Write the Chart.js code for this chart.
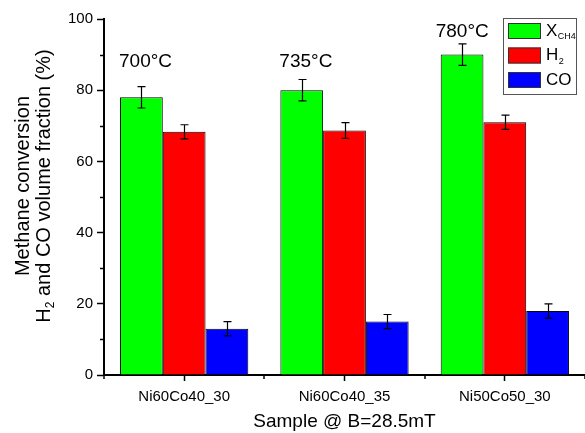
<!DOCTYPE html>
<html>
<head>
<meta charset="utf-8">
<script src="https://cdn.jsdelivr.net/npm/chart.js@4"></script>
<style>
  html, body { margin: 0; padding: 0; background: #fff; }
  #wrap { width: 585px; height: 433px; }
</style>
</head>
<body>
<div id="wrap"><canvas id="chart" width="585" height="433"></canvas></div>
<script>
// Data
const samples = ['Ni60Co40_30', 'Ni60Co40_35', 'Ni50Co50_30'];
const temps = ['700°C', '735°C', '780°C'];
const tempLevel = [88, 88, 96.5];   // height of each temperature label, in % units
const xch4 = [78, 80, 90];
const xch4Err = [3, 3, 3];
const h2 = [68.3, 68.7, 71];
const h2Err = [2, 2.2, 2];
const co = [13, 15, 18];
const coErr = [2, 2, 2];

const FONT = '"Liberation Sans", Arial, sans-serif';

// error bars drawn on top of each bar
const errorBars = {
    id: 'errorBars',
    afterDatasetsDraw(chart) {
        const c = chart.ctx;
        const y = chart.scales.y;
        c.save();
        c.strokeStyle = '#000';
        c.lineWidth = 1.2;
        chart.data.datasets.forEach((ds, i) => {
            chart.getDatasetMeta(i).data.forEach((bar, j) => {
                const v = ds.data[j], e = ds.err[j];
                const top = y.getPixelForValue(v + e), bot = y.getPixelForValue(v - e);
                const x = Math.round(bar.x) + 0.5;
                c.beginPath();
                c.moveTo(x, top); c.lineTo(x, bot);
                c.moveTo(x - 4, top); c.lineTo(x + 4, top);
                c.moveTo(x - 4, bot); c.lineTo(x + 4, bot);
                c.stroke();
            });
        });
        c.restore();
    }
};

// minor ticks, axis title with subscript, temperature labels, legend
const decor = {
    id: 'decor',
    afterDraw(chart) {
        const c = chart.ctx;
        const xs = chart.scales.x, ys = chart.scales.y;
        const area = chart.chartArea;
        c.save();
        c.strokeStyle = '#000';
        c.lineWidth = 1.5;
        // y minor ticks
        for (let v = 10; v < 100; v += 20) {
            const py = Math.round(ys.getPixelForValue(v)) + 0.5;
            c.beginPath(); c.moveTo(area.left - 4, py); c.lineTo(area.left, py); c.stroke();
        }
        // x minor ticks at category boundaries
        for (let i = 0; i <= samples.length; i++) {
            const px = Math.round(xs.getPixelForValue(i - 0.5));
            c.beginPath(); c.moveTo(px, area.bottom); c.lineTo(px, area.bottom + 4); c.stroke();
        }

        // y axis title
        c.fillStyle = '#000';
        c.save();
        c.translate(23, 186);
        c.rotate(-Math.PI / 2);
        c.textAlign = 'center';
        c.textBaseline = 'middle';
        c.font = '20px ' + FONT;
        c.fillText('Methane conversion', 0, 0);
        c.restore();
        c.save();
        c.translate(44, 186);
        c.rotate(-Math.PI / 2);
        c.textBaseline = 'middle';
        const partA = 'H', partB = ' and CO volume fraction (%)';
        c.font = '12px ' + FONT;
        const wSub = c.measureText('2').width;
        c.font = '20px ' + FONT;
        const total = c.measureText(partA).width + wSub + c.measureText(partB).width;
        let x0 = -total / 2;
        c.textAlign = 'left';
        c.fillText(partA, x0, 0);
        x0 += c.measureText(partA).width;
        c.font = '12px ' + FONT;
        c.fillText('2', x0, 7);
        x0 += wSub;
        c.font = '20px ' + FONT;
        c.fillText(partB, x0, 0);
        c.restore();

        // temperature labels above each group
        c.font = '19px ' + FONT;
        c.textAlign = 'left';
        c.textBaseline = 'middle';
        const greenMeta = chart.getDatasetMeta(0).data;
        temps.forEach((t, i) => {
            const bar = greenMeta[i];
            const tx = bar.x - bar.width / 2 - 1 - (i === 2 ? 4 : 0);
            const ty = ys.getPixelForValue(tempLevel[i]);
            c.fillText(t, tx, ty);
        });

        // legend
        const lx = 503, ly = 18, lw = 73, lh = 76;
        c.lineWidth = 1;
        c.strokeStyle = '#555';
        c.fillStyle = '#fff';
        c.fillRect(lx, ly, lw, lh);
        c.strokeRect(lx + 0.5, ly + 0.5, lw, lh);
        const items = chart.data.datasets;
        items.forEach((ds, i) => {
            const sy = ly + 5 + i * 24.5;
            c.fillStyle = ds.backgroundColor;
            c.fillRect(lx + 5, sy, 33, 16);
            c.strokeStyle = '#333';
            c.strokeRect(lx + 5.5, sy + 0.5, 32, 15);
            c.fillStyle = '#000';
            c.textBaseline = 'middle';
            c.font = '17px ' + FONT;
            const tx = lx + 43, ty = sy + 8;
            c.fillText(ds.label, tx, ty);
            if (ds.sub) {
                const w = c.measureText(ds.label).width;
                c.font = '9px ' + FONT;
                c.fillText(ds.sub, tx + w + 0.5, ty + 6);
            }
        });
        c.restore();
    }
};

const ctx = document.getElementById('chart').getContext('2d');
new Chart(ctx, {
    type: 'bar',
    data: {
        labels: samples,
        datasets: [
            { label: 'X', sub: 'CH4', data: xch4, err: xch4Err, backgroundColor: '#00ff00', borderColor: '#000', borderWidth: 1 },
            { label: 'H', sub: '2', data: h2, err: h2Err, backgroundColor: '#ff0000', borderColor: '#000', borderWidth: 1 },
            { label: 'CO', data: co, err: coErr, backgroundColor: '#0000ff', borderColor: '#000', borderWidth: 1 }
        ]
    },
    options: {
        responsive: false,
        animation: false,
        devicePixelRatio: 1,
        layout: { padding: { top: 19, right: 0, left: 0, bottom: 0 } },
        datasets: { bar: { categoryPercentage: 0.8, barPercentage: 1 } },
        plugins: { legend: { display: false }, tooltip: { enabled: false } },
        scales: {
            x: {
                grid: { display: true, drawOnChartArea: false, offset: false, tickLength: 6, tickColor: '#000', tickWidth: 1.5 },
                border: { color: '#000', width: 2 },
                ticks: { color: '#000', font: { family: FONT, size: 15 }, padding: 7, maxRotation: 0 },
                title: { display: true, text: 'Sample @ B=28.5mT', color: '#000', font: { family: FONT, size: 19 }, padding: { top: 4, bottom: 0 } },
                afterFit(s) { s.height = 58; }
            },
            y: {
                min: 0, max: 100,
                ticks: { stepSize: 20, color: '#000', font: { family: FONT, size: 15 }, padding: 4 },
                grid: { display: true, drawOnChartArea: false, tickLength: 7, tickColor: '#000', tickWidth: 1.5 },
                border: { color: '#000', width: 2 },
                afterFit(s) { s.width = 104; }
            }
        }
    },
    plugins: [errorBars, decor]
});
</script>
</body>
</html>
